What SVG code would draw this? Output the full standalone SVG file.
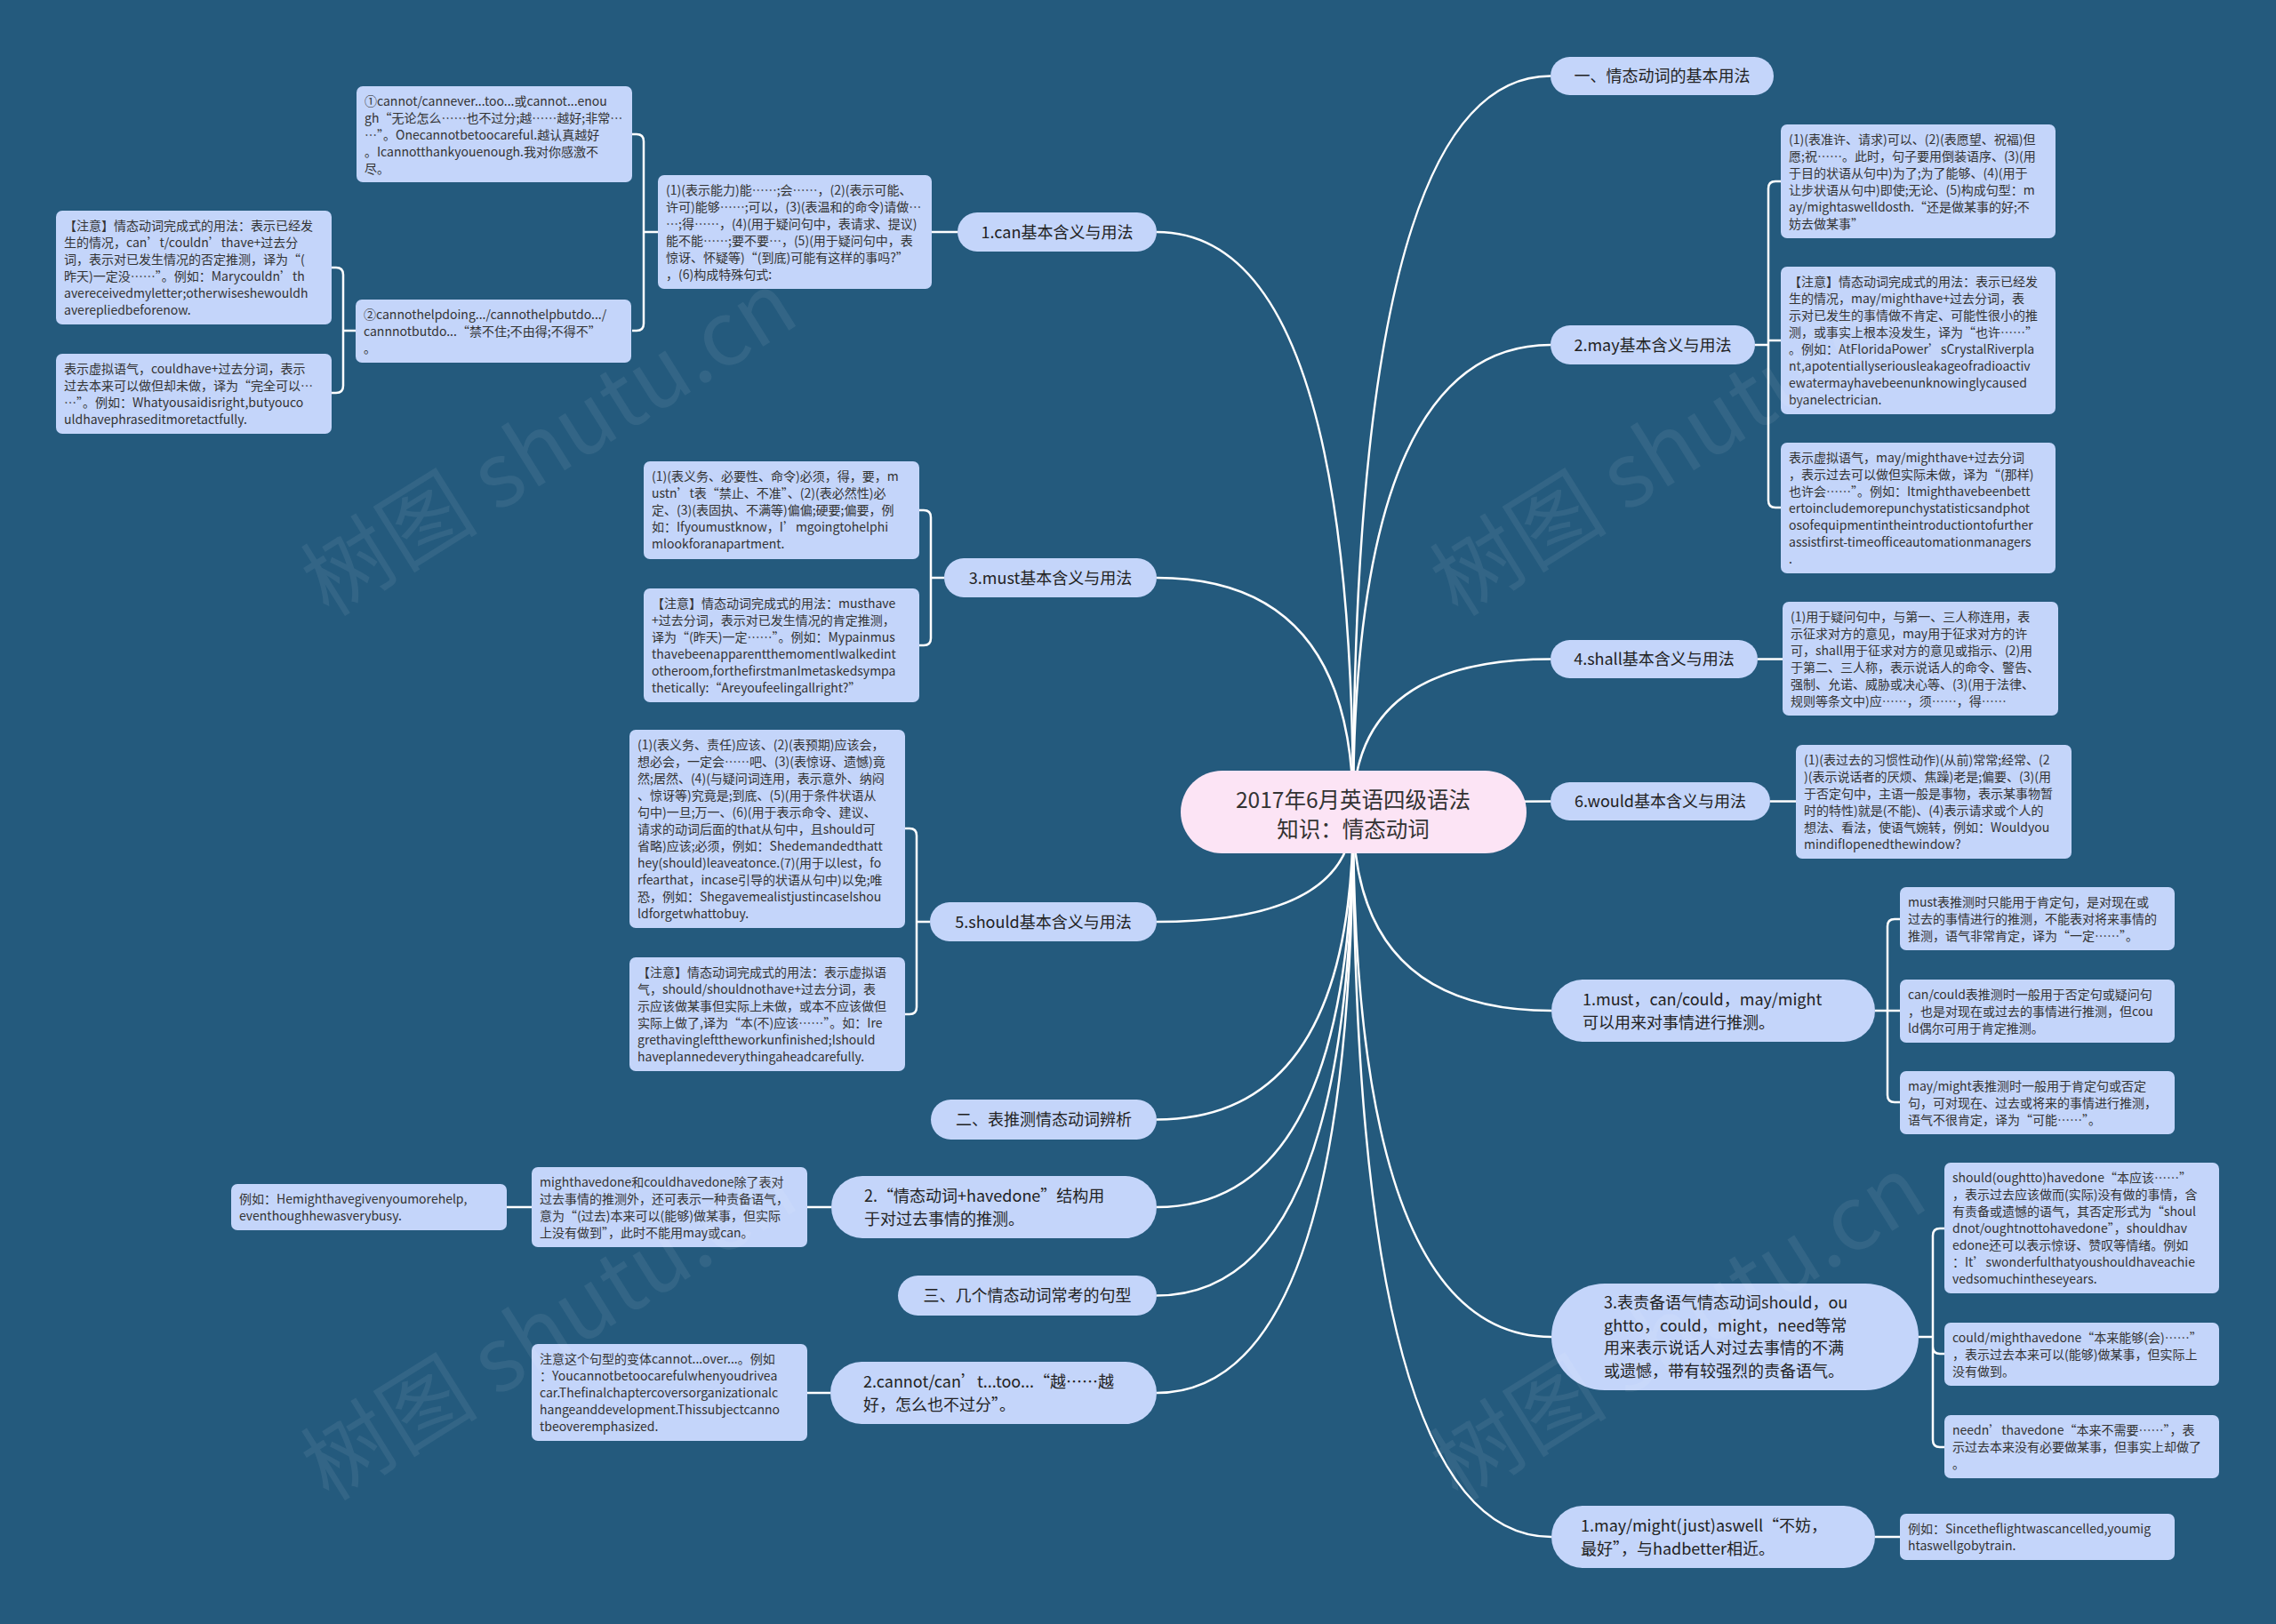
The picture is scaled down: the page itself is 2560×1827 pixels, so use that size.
<svg xmlns="http://www.w3.org/2000/svg" width="2560" height="1827" viewBox="0 0 2560 1827">
<style>
text{font-family:"Microsoft YaHei","Noto Sans CJK SC","Noto Sans",sans-serif}
.nd{fill:#c4d5fa}
.ctr{fill:#fce4f5}
.s{font-size:14px;fill:#333}
.m{font-size:18px;fill:#222}
.c{font-size:24.5px;fill:#333}
.cn{stroke:#fff;stroke-width:2.5;fill:none}
.wm{font-size:100px;fill:#fff;fill-opacity:0.07;font-family:"Liberation Serif","Noto Sans CJK SC",serif}
</style>
<rect width="2560" height="1827" fill="#245a7d"/>
<g id="connectors" class="cn">
<path d="M1522,913 Q1522,85.5 1744,85.5"/>
<path d="M1522,913 Q1522,388 1744,388"/>
<path d="M1522,913 Q1522,741.5 1744,741.5"/>
<path d="M1522,913 Q1522,901.5 1744,901.5"/>
<path d="M1522,913 Q1522,1137 1745,1137"/>
<path d="M1522,913 Q1522,1504 1745,1504"/>
<path d="M1522,913 Q1522,1729 1745,1729"/>
<path d="M1522,913 Q1522,261 1301,261"/>
<path d="M1522,913 Q1522,650 1301,650"/>
<path d="M1522,913 Q1522,1037 1301,1037"/>
<path d="M1522,913 Q1522,1259.5 1301,1259.5"/>
<path d="M1522,913 Q1522,1358 1301,1358"/>
<path d="M1522,913 Q1522,1457.5 1301,1457.5"/>
<path d="M1522,913 Q1522,1567 1301,1567"/>
<path d="M1077,261 H1048"/>
<path d="M740,261 H724 V159 Q724,151 716,151 H711 M724,261 V364 Q724,372 716,372 H711"/>
<path d="M400,372 H386 V309 Q386,301 378,301 H373 M386,372 V434 Q386,442 378,442 H373"/>
<path d="M1062,650 H1047 V582 Q1047,574 1039,574 H1034 M1047,650 V718 Q1047,726 1039,726 H1034"/>
<path d="M1046,1037 H1031 V940 Q1031,932 1023,932 H1018 M1031,1037 V1133 Q1031,1141 1023,1141 H1018"/>
<path d="M935,1358 H908 M598,1358 H570"/>
<path d="M934,1567 H908"/>
<path d="M1974,388 H1989 V212 Q1989,204 1997,204 H2003 M1989,388 V383 H2003 M1989,388 V563 Q1989,571 1997,571 H2003"/>
<path d="M1977,741.5 H2005"/>
<path d="M1991,901.5 H2020"/>
<path d="M2109,1137 H2123 V1042 Q2123,1034 2131,1034 H2137 M2123,1137 H2137 M2123,1137 V1232 Q2123,1240 2131,1240 H2137"/>
<path d="M2158,1504 H2174 V1390 Q2174,1382 2182,1382 H2187 M2174,1504 V1515 Q2174,1523 2182,1523 H2187 M2174,1504 V1620 Q2174,1628 2182,1628 H2187"/>
<path d="M2109,1729 H2137"/>
</g>
<g id="center">
<rect class="ctr" x="1328" y="867" width="389" height="93" rx="46.5"/>
<text class="c" text-anchor="middle"><tspan x="1522" y="908.5">2017年6月英语四级语法</tspan><tspan x="1522" y="942">知识：情态动词</tspan></text>
</g>
<g id="n-r1"><rect class="nd" x="1744" y="64" width="251" height="43" rx="21.5"/><text class="m" x="1869.5" y="92" text-anchor="middle">一、情态动词的基本用法</text></g>
<g id="n-r2"><rect class="nd" x="1744" y="366" width="230" height="44" rx="22"/><text class="m" x="1859" y="394.5" text-anchor="middle">2.may基本含义与用法</text></g>
<g id="n-r3"><rect class="nd" x="1744" y="720" width="233" height="43" rx="21.5"/><text class="m" x="1860.5" y="748" text-anchor="middle">4.shall基本含义与用法</text></g>
<g id="n-r4"><rect class="nd" x="1744" y="880" width="247" height="43" rx="21.5"/><text class="m" x="1867.5" y="908" text-anchor="middle">6.would基本含义与用法</text></g>
<g id="n-r5"><rect class="nd" x="1745" y="1102" width="364" height="70" rx="35"/><text class="m"><tspan x="1780" y="1130.5">1.must，can/could，may/might</tspan><tspan x="1780" y="1156.5">可以用来对事情进行推测。</tspan></text></g>
<g id="n-r6"><rect class="nd" x="1745" y="1444" width="413" height="120" rx="60"/><text class="m"><tspan x="1804" y="1472">3.表责备语气情态动词should，ou</tspan><tspan x="1804" y="1497.5">ghtto，could，might，need等常</tspan><tspan x="1804" y="1523">用来表示说话人对过去事情的不满</tspan><tspan x="1804" y="1548.5">或遗憾，带有较强烈的责备语气。</tspan></text></g>
<g id="n-r7"><rect class="nd" x="1745" y="1694" width="364" height="70" rx="35"/><text class="m"><tspan x="1778" y="1722.5">1.may/might(just)aswell“不妨，</tspan><tspan x="1778" y="1748.5">最好”，与hadbetter相近。</tspan></text></g>
<g id="n-l1"><rect class="nd" x="1077" y="239" width="224" height="44" rx="22"/><text class="m" x="1189" y="267.5" text-anchor="middle">1.can基本含义与用法</text></g>
<g id="n-l2"><rect class="nd" x="1062" y="628" width="239" height="44" rx="22"/><text class="m" x="1181.5" y="656.5" text-anchor="middle">3.must基本含义与用法</text></g>
<g id="n-l3"><rect class="nd" x="1046" y="1015" width="255" height="44" rx="22"/><text class="m" x="1173.5" y="1043.5" text-anchor="middle">5.should基本含义与用法</text></g>
<g id="n-l4"><rect class="nd" x="1047" y="1237" width="254" height="45" rx="22.5"/><text class="m" x="1174" y="1266" text-anchor="middle">二、表推测情态动词辨析</text></g>
<g id="n-l5"><rect class="nd" x="935" y="1323" width="366" height="70" rx="35"/><text class="m"><tspan x="972" y="1351.5">2.“情态动词+havedone”结构用</tspan><tspan x="972" y="1377.5">于对过去事情的推测。</tspan></text></g>
<g id="n-l6"><rect class="nd" x="1010" y="1435" width="291" height="45" rx="22.5"/><text class="m" x="1155.5" y="1464" text-anchor="middle">三、几个情态动词常考的句型</text></g>
<g id="n-l7"><rect class="nd" x="934" y="1532" width="367" height="70" rx="35"/><text class="m"><tspan x="971" y="1560.5">2.cannot/can’t...too...“越……越</tspan><tspan x="971" y="1586.5">好，怎么也不过分”。</tspan></text></g>
<g id="b-can1"><rect class="nd" x="401" y="97" width="310" height="108" rx="7"/><text class="s"><tspan x="410" y="118.5">①cannot/cannever...too...或cannot...enou</tspan><tspan x="410" dy="19">gh“无论怎么……也不过分;越……越好;非常…</tspan><tspan x="410" dy="19">…”。Onecannotbetoocareful.越认真越好</tspan><tspan x="410" dy="19">。Icannotthankyouenough.我对你感激不</tspan><tspan x="410" dy="19">尽。</tspan></text></g>
<g id="b-can0"><rect class="nd" x="740" y="197" width="308" height="128" rx="7"/><text class="s"><tspan x="749" y="218.5">(1)(表示能力)能……;会……，(2)(表示可能、</tspan><tspan x="749" dy="19">许可)能够……;可以，(3)(表温和的命令)请做…</tspan><tspan x="749" dy="19">…;得……，(4)(用于疑问句中，表请求、提议)</tspan><tspan x="749" dy="19">能不能……;要不要…，(5)(用于疑问句中，表</tspan><tspan x="749" dy="19">惊讶、怀疑等)“(到底)可能有这样的事吗?”</tspan><tspan x="749" dy="19">，(6)构成特殊句式:</tspan></text></g>
<g id="b-can3"><rect class="nd" x="63" y="237" width="310" height="128" rx="7"/><text class="s"><tspan x="72" y="258.5">【注意】情态动词完成式的用法：表示已经发</tspan><tspan x="72" dy="19">生的情况，can’t/couldn’thave+过去分</tspan><tspan x="72" dy="19">词，表示对已发生情况的否定推测，译为“(</tspan><tspan x="72" dy="19">昨天)一定没……”。例如：Marycouldn’th</tspan><tspan x="72" dy="19">avereceivedmyletter;otherwiseshewouldh</tspan><tspan x="72" dy="19">averepliedbeforenow.</tspan></text></g>
<g id="b-can2"><rect class="nd" x="400" y="337" width="310" height="71" rx="7"/><text class="s"><tspan x="409" y="358.5">②cannothelpdoing.../cannothelpbutdo.../</tspan><tspan x="409" dy="19">cannnotbutdo...“禁不住;不由得;不得不”</tspan><tspan x="409" dy="19">。</tspan></text></g>
<g id="b-can4"><rect class="nd" x="63" y="398" width="310" height="90" rx="7"/><text class="s"><tspan x="72" y="419.5">表示虚拟语气，couldhave+过去分词，表示</tspan><tspan x="72" dy="19">过去本来可以做但却未做，译为“完全可以…</tspan><tspan x="72" dy="19">…”。例如：Whatyousaidisright,butyouco</tspan><tspan x="72" dy="19">uldhavephraseditmoretactfully.</tspan></text></g>
<g id="b-must1"><rect class="nd" x="724" y="519" width="310" height="110" rx="7"/><text class="s"><tspan x="733" y="540.5">(1)(表义务、必要性、命令)必须，得，要，m</tspan><tspan x="733" dy="19">ustn’t表“禁止、不准”、(2)(表必然性)必</tspan><tspan x="733" dy="19">定、(3)(表固执、不满等)偏偏;硬要;偏要，例</tspan><tspan x="733" dy="19">如：Ifyoumustknow，I’mgoingtohelphi</tspan><tspan x="733" dy="19">mlookforanapartment.</tspan></text></g>
<g id="b-must2"><rect class="nd" x="724" y="662" width="310" height="128" rx="7"/><text class="s"><tspan x="733" y="683.5">【注意】情态动词完成式的用法：musthave</tspan><tspan x="733" dy="19">+过去分词，表示对已发生情况的肯定推测，</tspan><tspan x="733" dy="19">译为“(昨天)一定……”。例如：Mypainmus</tspan><tspan x="733" dy="19">thavebeenapparentthemomentIwalkedint</tspan><tspan x="733" dy="19">otheroom,forthefirstmanImetaskedsympa</tspan><tspan x="733" dy="19">thetically:“Areyoufeelingallright?”</tspan></text></g>
<g id="b-should1"><rect class="nd" x="708" y="821" width="310" height="223" rx="7"/><text class="s"><tspan x="717" y="842.5">(1)(表义务、责任)应该、(2)(表预期)应该会，</tspan><tspan x="717" dy="19">想必会，一定会……吧、(3)(表惊讶、遗憾)竟</tspan><tspan x="717" dy="19">然;居然、(4)(与疑问词连用，表示意外、纳闷</tspan><tspan x="717" dy="19">、惊讶等)究竟是;到底、(5)(用于条件状语从</tspan><tspan x="717" dy="19">句中)一旦;万一、(6)(用于表示命令、建议、</tspan><tspan x="717" dy="19">请求的动词后面的that从句中，且should可</tspan><tspan x="717" dy="19">省略)应该;必须，例如：Shedemandedthatt</tspan><tspan x="717" dy="19">hey(should)leaveatonce.(7)(用于以lest，fo</tspan><tspan x="717" dy="19">rfearthat，incase引导的状语从句中)以免;唯</tspan><tspan x="717" dy="19">恐，例如：ShegavemealistjustincaseIshou</tspan><tspan x="717" dy="19">ldforgetwhattobuy.</tspan></text></g>
<g id="b-should2"><rect class="nd" x="708" y="1077" width="310" height="128" rx="7"/><text class="s"><tspan x="717" y="1098.5">【注意】情态动词完成式的用法：表示虚拟语</tspan><tspan x="717" dy="19">气，should/shouldnothave+过去分词，表</tspan><tspan x="717" dy="19">示应该做某事但实际上未做，或本不应该做但</tspan><tspan x="717" dy="19">实际上做了,译为“本(不)应该……”。如：Ire</tspan><tspan x="717" dy="19">grethavinglefttheworkunfinished;Ishould</tspan><tspan x="717" dy="19">haveplannedeverythingaheadcarefully.</tspan></text></g>
<g id="b-eg1"><rect class="nd" x="260" y="1332" width="310" height="52" rx="7"/><text class="s"><tspan x="269" y="1353.5">例如：Hemighthavegivenyoumorehelp,</tspan><tspan x="269" dy="19">eventhoughhewasverybusy.</tspan></text></g>
<g id="b-might"><rect class="nd" x="598" y="1313" width="310" height="90" rx="7"/><text class="s"><tspan x="607" y="1334.5">mighthavedone和couldhavedone除了表对</tspan><tspan x="607" dy="19">过去事情的推测外，还可表示一种责备语气，</tspan><tspan x="607" dy="19">意为“(过去)本来可以(能够)做某事，但实际</tspan><tspan x="607" dy="19">上没有做到”，此时不能用may或can。</tspan></text></g>
<g id="b-note"><rect class="nd" x="598" y="1512" width="310" height="109" rx="7"/><text class="s"><tspan x="607" y="1533.5">注意这个句型的变体cannot...over...。例如</tspan><tspan x="607" dy="19">：Youcannotbetoocarefulwhenyoudrivea</tspan><tspan x="607" dy="19">car.Thefinalchaptercoversorganizationalc</tspan><tspan x="607" dy="19">hangeanddevelopment.Thissubjectcanno</tspan><tspan x="607" dy="19">tbeoveremphasized.</tspan></text></g>
<g id="b-may1"><rect class="nd" x="2003" y="140" width="309" height="128" rx="7"/><text class="s"><tspan x="2012" y="161.5">(1)(表准许、请求)可以、(2)(表愿望、祝福)但</tspan><tspan x="2012" dy="19">愿;祝……。此时，句子要用倒装语序、(3)(用</tspan><tspan x="2012" dy="19">于目的状语从句中)为了;为了能够、(4)(用于</tspan><tspan x="2012" dy="19">让步状语从句中)即使;无论、(5)构成句型：m</tspan><tspan x="2012" dy="19">ay/mightaswelldosth.“还是做某事的好;不</tspan><tspan x="2012" dy="19">妨去做某事”</tspan></text></g>
<g id="b-may2"><rect class="nd" x="2003" y="300" width="309" height="166" rx="7"/><text class="s"><tspan x="2012" y="321.5">【注意】情态动词完成式的用法：表示已经发</tspan><tspan x="2012" dy="19">生的情况，may/mighthave+过去分词，表</tspan><tspan x="2012" dy="19">示对已发生的事情做不肯定、可能性很小的推</tspan><tspan x="2012" dy="19">测，或事实上根本没发生，译为“也许……”</tspan><tspan x="2012" dy="19">。例如：AtFloridaPower’sCrystalRiverpla</tspan><tspan x="2012" dy="19">nt,apotentiallyseriousleakageofradioactiv</tspan><tspan x="2012" dy="19">ewatermayhavebeenunknowinglycaused</tspan><tspan x="2012" dy="19">byanelectrician.</tspan></text></g>
<g id="b-may3"><rect class="nd" x="2003" y="498" width="309" height="147" rx="7"/><text class="s"><tspan x="2012" y="519.5">表示虚拟语气，may/mighthave+过去分词</tspan><tspan x="2012" dy="19">，表示过去可以做但实际未做，译为“(那样)</tspan><tspan x="2012" dy="19">也许会……”。例如：Itmighthavebeenbett</tspan><tspan x="2012" dy="19">ertoincludemorepunchystatisticsandphot</tspan><tspan x="2012" dy="19">osofequipmentintheintroductiontofurther</tspan><tspan x="2012" dy="19">assistfirst-timeofficeautomationmanagers</tspan><tspan x="2012" dy="19">.</tspan></text></g>
<g id="b-shall"><rect class="nd" x="2005" y="677" width="310" height="128" rx="7"/><text class="s"><tspan x="2014" y="698.5">(1)用于疑问句中，与第一、三人称连用，表</tspan><tspan x="2014" dy="19">示征求对方的意见，may用于征求对方的许</tspan><tspan x="2014" dy="19">可，shall用于征求对方的意见或指示、(2)用</tspan><tspan x="2014" dy="19">于第二、三人称，表示说话人的命令、警告、</tspan><tspan x="2014" dy="19">强制、允诺、威胁或决心等、(3)(用于法律、</tspan><tspan x="2014" dy="19">规则等条文中)应……，须……，得……</tspan></text></g>
<g id="b-would"><rect class="nd" x="2020" y="838" width="310" height="128" rx="7"/><text class="s"><tspan x="2029" y="859.5">(1)(表过去的习惯性动作)(从前)常常;经常、(2</tspan><tspan x="2029" dy="19">)(表示说话者的厌烦、焦躁)老是;偏要、(3)(用</tspan><tspan x="2029" dy="19">于否定句中，主语一般是事物，表示某事物暂</tspan><tspan x="2029" dy="19">时的特性)就是(不能)、(4)表示请求或个人的</tspan><tspan x="2029" dy="19">想法、看法，使语气婉转，例如：Wouldyou</tspan><tspan x="2029" dy="19">mindifIopenedthewindow?</tspan></text></g>
<g id="b-must-t"><rect class="nd" x="2137" y="998" width="309" height="71" rx="7"/><text class="s"><tspan x="2146" y="1019.5">must表推测时只能用于肯定句，是对现在或</tspan><tspan x="2146" dy="19">过去的事情进行的推测，不能表对将来事情的</tspan><tspan x="2146" dy="19">推测，语气非常肯定，译为“一定……”。</tspan></text></g>
<g id="b-can-t"><rect class="nd" x="2137" y="1102" width="309" height="71" rx="7"/><text class="s"><tspan x="2146" y="1123.5">can/could表推测时一般用于否定句或疑问句</tspan><tspan x="2146" dy="19">，也是对现在或过去的事情进行推测，但cou</tspan><tspan x="2146" dy="19">ld偶尔可用于肯定推测。</tspan></text></g>
<g id="b-may-t"><rect class="nd" x="2137" y="1205" width="309" height="71" rx="7"/><text class="s"><tspan x="2146" y="1226.5">may/might表推测时一般用于肯定句或否定</tspan><tspan x="2146" dy="19">句，可对现在、过去或将来的事情进行推测，</tspan><tspan x="2146" dy="19">语气不很肯定，译为“可能……”。</tspan></text></g>
<g id="b-should-t"><rect class="nd" x="2187" y="1308" width="309" height="147" rx="7"/><text class="s"><tspan x="2196" y="1329.5">should(oughtto)havedone“本应该……”</tspan><tspan x="2196" dy="19">，表示过去应该做而(实际)没有做的事情，含</tspan><tspan x="2196" dy="19">有责备或遗憾的语气，其否定形式为“shoul</tspan><tspan x="2196" dy="19">dnot/oughtnottohavedone”，shouldhav</tspan><tspan x="2196" dy="19">edone还可以表示惊讶、赞叹等情绪。例如</tspan><tspan x="2196" dy="19">：It’swonderfulthatyoushouldhaveachie</tspan><tspan x="2196" dy="19">vedsomuchintheseyears.</tspan></text></g>
<g id="b-could-t"><rect class="nd" x="2187" y="1488" width="309" height="71" rx="7"/><text class="s"><tspan x="2196" y="1509.5">could/mighthavedone“本来能够(会)……”</tspan><tspan x="2196" dy="19">，表示过去本来可以(能够)做某事，但实际上</tspan><tspan x="2196" dy="19">没有做到。</tspan></text></g>
<g id="b-need-t"><rect class="nd" x="2187" y="1592" width="309" height="71" rx="7"/><text class="s"><tspan x="2196" y="1613.5">needn’thavedone“本来不需要……”，表</tspan><tspan x="2196" dy="19">示过去本来没有必要做某事，但事实上却做了</tspan><tspan x="2196" dy="19">。</tspan></text></g>
<g id="b-since"><rect class="nd" x="2137" y="1703" width="309" height="52" rx="7"/><text class="s"><tspan x="2146" y="1724.5">例如：Sincetheflightwascancelled,youmig</tspan><tspan x="2146" dy="19">htaswellgobytrain.</tspan></text></g>
<g id="watermarks" class="wm">
<text transform="translate(370,695) rotate(-32)">树图 shutu.cn</text>
<text transform="translate(1640,695) rotate(-32)">树图 shutu.cn</text>
<text transform="translate(370,1690) rotate(-32)">树图 shutu.cn</text>
<text transform="translate(1640,1690) rotate(-32)">树图 shutu.cn</text>
</g>
</svg>
